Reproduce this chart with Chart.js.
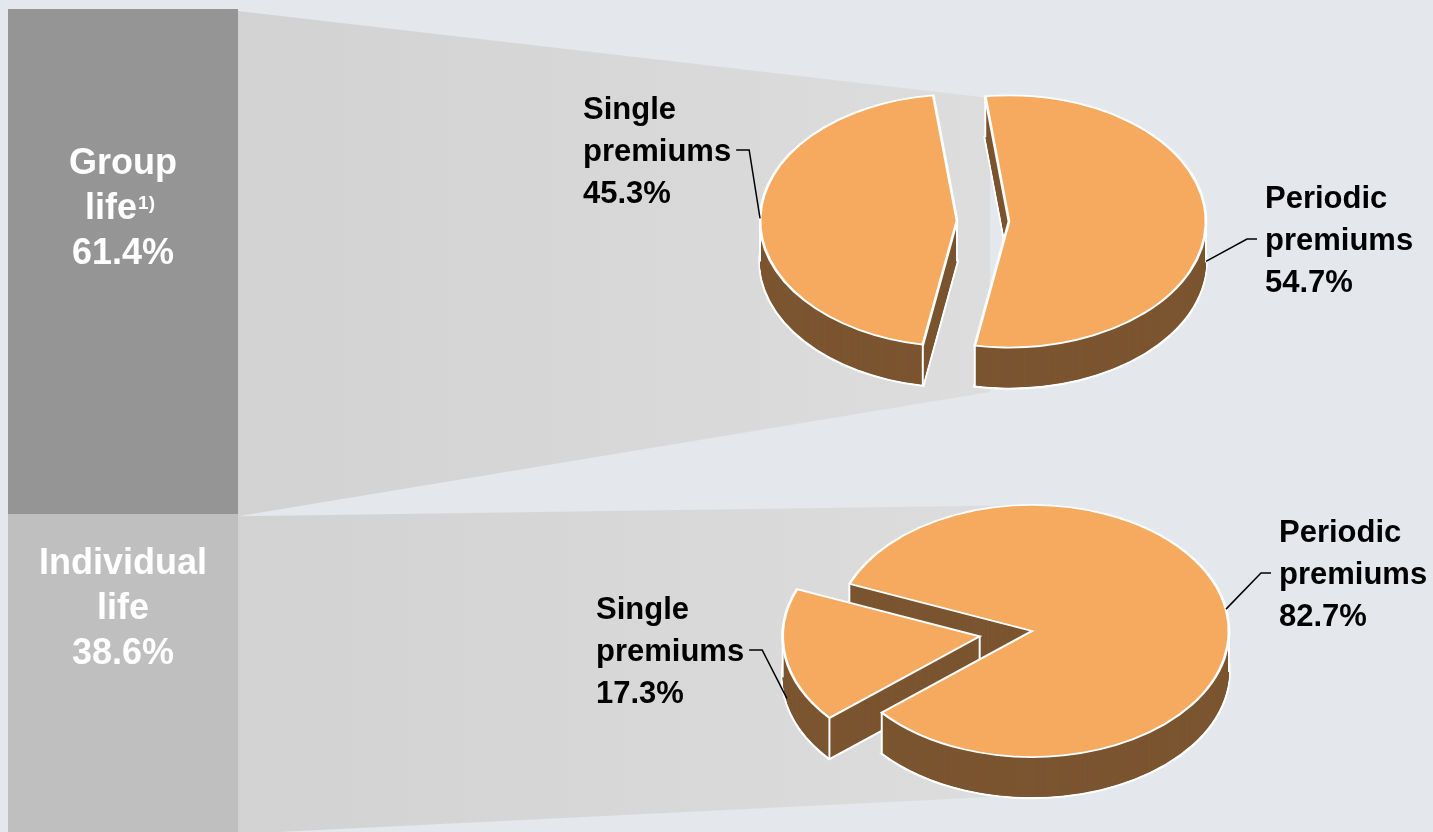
<!DOCTYPE html>
<html>
<head>
<meta charset="utf-8">
<script src="https://cdn.jsdelivr.net/npm/chart.js@4.4.1/dist/chart.umd.min.js"></script>
<style>
  html, body { margin: 0; padding: 0; background: #E4E8EC; overflow: hidden; }
  #stage { position: relative; width: 1433px; height: 832px; }
  #stage canvas { position: absolute; left: 0; top: 0; }
</style>
</head>
<body>
<div id="stage">
  <canvas id="split" width="1433" height="832"></canvas>
  <canvas id="groupPie" width="1433" height="832"></canvas>
  <canvas id="individualPie" width="1433" height="832"></canvas>
</div>
<script>
// ---- data ----
const segmentNames = ['Individual life', 'Group life'];
const segmentShares = [38.6, 61.4];
const segmentNotes = ['', '1)'];
const premiumTypes = ['Single premiums', 'Periodic premiums'];
const groupShares = [45.3, 54.7];
const individualShares = [17.3, 82.7];

// ---- look ----
const FONT = '"Liberation Sans", Arial, sans-serif';
const BAR_COLORS = ['#BFBFBF', '#959595'];
const TOP_FACE = '#F6AA60';
const SIDE = '#7B5530';
const EDGE = '#FFFFFF';
const TILT = 0.64;      // vertical squash of the pie discs
const DEPTH = 41;       // thickness of the discs in px
const RADIUS = 197;

const pct = v => v.toFixed(1) + '%';

// ---- stacked bar on the left, with the grey bands that fan out to the pies ----
const bands = [
  { seg: 1, x: 990, top: 98, bottom: 392 },
  { seg: 0, x: 1032, top: 505, bottom: 795 }
];

const bandPlugin = {
  id: 'bands',
  beforeDatasetsDraw(chart) {
    const ctx = chart.ctx;
    bands.forEach(b => {
      const bar = chart.getDatasetMeta(b.seg).data[0];
      const left = bar.x + bar.width / 2;
      const g = ctx.createLinearGradient(left, 0, b.x, 0);
      g.addColorStop(0, '#D2D2D2');
      g.addColorStop(1, '#DDDDDD');
      ctx.save();
      ctx.fillStyle = g;
      ctx.beginPath();
      ctx.moveTo(left, bar.y + 2);
      ctx.lineTo(b.x, b.top);
      ctx.lineTo(b.x, b.bottom);
      ctx.lineTo(left, bar.base + 2);
      ctx.closePath();
      ctx.fill();
      ctx.restore();
    });
  }
};

const labelDrop = [60, 165];
const barLabelPlugin = {
  id: 'barLabels',
  afterDatasetsDraw(chart) {
    const ctx = chart.ctx;
    ctx.save();
    ctx.fillStyle = '#FFFFFF';
    ctx.textBaseline = 'alphabetic';
    segmentNames.forEach((name, i) => {
      const bar = chart.getDatasetMeta(i).data[0];
      const lines = name.split(' ').concat([pct(segmentShares[i])]);
      let y = bar.y + labelDrop[i];
      lines.forEach((ln, j) => {
        ctx.font = 'bold 36px ' + FONT;
        if (j === 1 && segmentNotes[i]) {
          const w1 = ctx.measureText(ln).width;
          ctx.font = 'bold 19px ' + FONT;
          const w2 = ctx.measureText(segmentNotes[i]).width;
          const x0 = bar.x - (w1 + w2 + 1) / 2 - 3;
          ctx.textAlign = 'left';
          ctx.fillText(segmentNotes[i], x0 + w1 + 1, y - 10);
          ctx.font = 'bold 36px ' + FONT;
          ctx.fillText(ln, x0, y);
        } else {
          ctx.textAlign = 'center';
          ctx.fillText(ln, bar.x, y);
        }
        y += 45;
      });
    });
    ctx.restore();
  }
};

new Chart(document.getElementById('split'), {
  type: 'bar',
  data: {
    labels: [''],
    datasets: segmentNames.map((n, i) => ({
      label: n,
      data: [segmentShares[i]],
      backgroundColor: BAR_COLORS[i],
      borderWidth: 0,
      barPercentage: 1,
      categoryPercentage: 1
    }))
  },
  options: {
    responsive: false,
    animation: false,
    events: [],
    layout: { padding: { left: 8, top: 9, right: 1195, bottom: 0 } },
    scales: {
      x: { stacked: true, display: false },
      y: { stacked: true, display: false, min: 0, max: 100 }
    },
    plugins: { legend: { display: false }, tooltip: { enabled: false } }
  },
  plugins: [bandPlugin, barLabelPlugin]
});

// ---- 3D pies ----
function sliceShift(arc, pull) {
  const m = (arc.startAngle + arc.endAngle) / 2;
  return [Math.cos(m) * pull, Math.sin(m) * pull];
}

function withTilt(ctx, cx, cy, fn) {
  ctx.save();
  ctx.translate(cx, cy);
  ctx.scale(1, TILT);
  ctx.translate(-cx, -cy);
  fn();
  ctx.restore();
}

// draw an arc element with other colours, moved by its pull and lowered by `lift` screen px
function paintArc(ctx, arc, shift, lift, fill, stroke, width) {
  const ghost = Object.create(arc);
  ghost.options = Object.assign({}, arc.options, {
    backgroundColor: fill, borderColor: stroke, borderWidth: width,
    offset: 0, spacing: 0, borderJoinStyle: 'miter'
  });
  ctx.save();
  ctx.translate(shift[0], shift[1] + lift / TILT);
  ghost.draw(ctx);
  ctx.restore();
}

function solidPie(pull) {
  return {
    id: 'solidPie',
    beforeDatasetDraw() { return false; },
    afterDatasetsDraw(chart) {
      const ctx = chart.ctx;
      const arcs = chart.getDatasetMeta(0).data;
      const cx = arcs[0].x, cy = arcs[0].y, R = arcs[0].outerRadius;
      const shifts = arcs.map((a, i) => sliceShift(a, pull[i]));

      // side walls: outlined bottom, then filled slices up to the top face
      withTilt(ctx, cx, cy, () => {
        arcs.forEach((a, i) => paintArc(ctx, a, shifts[i], DEPTH, SIDE, EDGE, 3.6));
        for (let k = DEPTH - 1; k >= 1; k--) {
          arcs.forEach((a, i) => paintArc(ctx, a, shifts[i], k, SIDE, SIDE, 0));
        }
      });

      // vertical edges of the walls
      ctx.save();
      ctx.strokeStyle = EDGE;
      ctx.lineWidth = 2;
      arcs.forEach((a, i) => {
        const angles = [a.startAngle, a.endAngle];
        [0, Math.PI].forEach(e => {
          let v = e;
          while (v < a.startAngle) v += 2 * Math.PI;
          if (v <= a.endAngle) angles.push(v);
        });
        const pts = angles.map(g => [R * Math.cos(g), R * Math.sin(g)]).concat([[0, 0]]);
        pts.forEach(([px, py]) => {
          const sx = cx + shifts[i][0] + px;
          const sy = cy + (shifts[i][1] + py) * TILT;
          ctx.beginPath();
          ctx.moveTo(sx, sy);
          ctx.lineTo(sx, sy + DEPTH);
          ctx.stroke();
        });
      });
      ctx.restore();

      // top faces
      withTilt(ctx, cx, cy, () => {
        arcs.forEach((a, i) => paintArc(ctx, a, shifts[i], 0,
          a.options.backgroundColor, a.options.borderColor, a.options.borderWidth));
      });
    }
  };
}

function pieLabels(shares, pull, items) {
  return {
    id: 'pieLabels',
    afterDraw(chart) {
      const ctx = chart.ctx;
      const arcs = chart.getDatasetMeta(0).data;
      const cx = arcs[0].x, cy = arcs[0].y, R = arcs[0].outerRadius;
      ctx.save();
      ctx.font = 'bold 31px ' + FONT;
      ctx.fillStyle = '#000000';
      ctx.strokeStyle = '#000000';
      ctx.lineWidth = 1.5;
      ctx.textAlign = 'left';
      ctx.textBaseline = 'alphabetic';
      items.forEach((it, i) => {
        const lines = premiumTypes[i].split(' ').concat([pct(shares[i])]);
        lines.forEach((ln, j) => ctx.fillText(ln, it.x, it.y + j * 42));
        const sh = sliceShift(arcs[i], pull[i]);
        const phi = (it.angle - 90) * Math.PI / 180;
        const ax = cx + sh[0] + R * Math.cos(phi);
        const ay = cy + (sh[1] + R * Math.sin(phi)) * TILT + it.drop;
        const yl = it.y + 42 - 11;
        let x0, x1;
        if (it.side === 'left') {
          x0 = it.x + ctx.measureText(lines[1]).width + 5;
          x1 = x0 + 13;
        } else {
          x0 = it.x - 8;
          x1 = x0 - 10;
        }
        ctx.beginPath();
        ctx.moveTo(x0, yl);
        ctx.lineTo(x1, yl);
        ctx.lineTo(ax, ay);
        ctx.stroke();
      });
      ctx.restore();
    }
  };
}

function makePie(id, shares, rotation, padding, pull, items) {
  return new Chart(document.getElementById(id), {
    type: 'pie',
    data: {
      labels: premiumTypes,
      datasets: [{
        data: shares,
        backgroundColor: TOP_FACE,
        borderColor: EDGE,
        borderWidth: 2.8,
        rotation: rotation,
        radius: RADIUS
      }]
    },
    options: {
      responsive: false,
      animation: false,
      events: [],
      layout: { padding: padding },
      plugins: { legend: { display: false }, tooltip: { enabled: false } }
    },
    plugins: [solidPie(pull), pieLabels(shares, pull, items)]
  });
}

makePie('groupPie', groupShares, 190,
  { left: 533, right: 0, top: 0, bottom: 390 },
  [26, 26],
  [
    { side: 'left', x: 583, y: 119, angle: 271, drop: 0 },
    { side: 'right', x: 1265, y: 208, angle: 90, drop: 40 }
  ]);

makePie('individualPie', individualShares, 229.7,
  { left: 631, right: 0, top: 430, bottom: 0 },
  [53, 0],
  [
    { side: 'left', x: 596, y: 619, angle: 258, drop: 36 },
    { side: 'right', x: 1279, y: 542, angle: 80, drop: 0 }
  ]);
</script>
</body>
</html>
